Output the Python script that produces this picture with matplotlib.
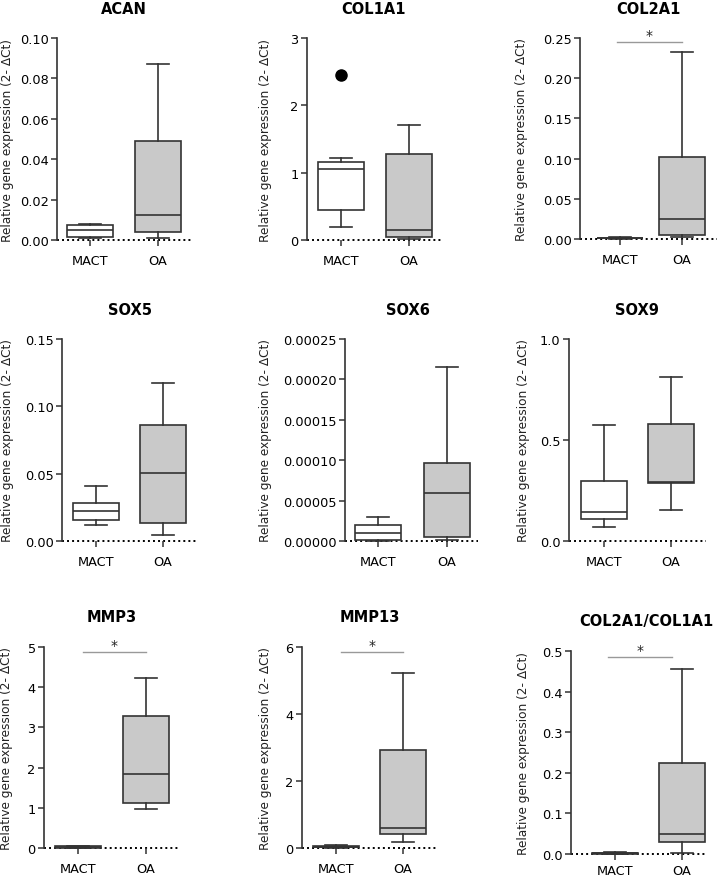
import numpy as np
import matplotlib.pyplot as plt

plt.rcParams['font.family'] = ['DejaVu Sans']

groups = ['MACT', 'OA']
genes = ['ACAN', 'COL1A1', 'COL2A1', 'SOX5', 'SOX6', 'SOX9',
         'MMP3', 'MMP13', 'COL2A1/COL1A1']

# box summaries: [whislo, q1, med, q3, whishi]
acan_mact = [0.0008, 0.0017, 0.0050, 0.0076, 0.0078]
acan_oa = [0.0008, 0.0038, 0.0124, 0.0492, 0.0873]
col1a1_mact = [0.19, 0.45, 1.06, 1.16, 1.22]
col1a1_oa = [0.02, 0.04, 0.15, 1.27, 1.71]
col1a1_mact_fliers = [2.45]
col2a1_mact = [0.0005, 0.0008, 0.0010, 0.0015, 0.0030]
col2a1_oa = [0.0020, 0.0046, 0.0245, 0.102, 0.232]
sox5_mact = [0.0117, 0.0154, 0.0223, 0.0280, 0.0409]
sox5_oa = [0.0045, 0.0131, 0.0505, 0.0865, 0.117]
sox6_mact = [0.0, 0.000001, 0.0000099, 0.0000194, 0.0000293]
sox6_oa = [0.000001, 0.0000045, 0.0000600, 0.0000960, 0.000215]
sox9_mact = [0.069, 0.111, 0.144, 0.298, 0.574]
sox9_oa = [0.152, 0.286, 0.293, 0.579, 0.812]
mmp3_mact = [0.005, 0.010, 0.030, 0.050, 0.060]
mmp3_oa = [0.96, 1.12, 1.83, 3.28, 4.24]
mmp13_mact = [0.010, 0.020, 0.040, 0.060, 0.080]
mmp13_oa = [0.18, 0.42, 0.585, 2.94, 5.22]
ratio_mact = [0.0005, 0.0010, 0.0015, 0.0030, 0.0040]
ratio_oa = [0.0025, 0.029, 0.049, 0.224, 0.456]

mact_sets = [acan_mact, col1a1_mact, col2a1_mact, sox5_mact, sox6_mact,
             sox9_mact, mmp3_mact, mmp13_mact, ratio_mact]
oa_sets = [acan_oa, col1a1_oa, col2a1_oa, sox5_oa, sox6_oa,
           sox9_oa, mmp3_oa, mmp13_oa, ratio_oa]
mact_fliers = [[], col1a1_mact_fliers, [], [], [], [], [], [], []]

yticks = [
    [0.00, 0.02, 0.04, 0.06, 0.08, 0.10],
    [0, 1, 2, 3],
    [0.00, 0.05, 0.10, 0.15, 0.20, 0.25],
    [0.00, 0.05, 0.10, 0.15],
    [0.0, 0.00005, 0.00010, 0.00015, 0.00020, 0.00025],
    [0.0, 0.5, 1.0],
    [0, 1, 2, 3, 4, 5],
    [0, 2, 4, 6],
    [0.0, 0.1, 0.2, 0.3, 0.4, 0.5],
]
ytick_fmt = ['%.2f', '%d', '%.2f', '%.2f', '%.5f', '%.1f', '%d', '%d', '%.1f']

# significance bars: (x start, x end, y level) or None
sig = [None, None, (0.95, 2.0, 0.245), None, None, None,
       (1.07, 2.0, 4.87), (1.07, 2.0, 5.85), (0.9, 1.85, 0.485)]

# panel layout in pixels: left, MACT centre, OA centre, right, top, zero line
layout = [
    (57, 90, 158, 192, 39, 241),
    (307, 341, 409, 442, 39, 241),
    (580, 620, 682, 717, 39, 240),
    (62, 96, 163, 197, 340, 542),
    (345, 378, 447, 478, 340, 542),
    (569, 604, 671, 706, 340, 542),
    (44, 78, 146, 180, 648, 849),
    (302, 336, 403, 437, 648, 849),
    (571, 615, 682, 706, 652, 855),
]
title_pos = [(124, 10), (373, 10), (648, 10), (130, 311), (408, 311),
             (637, 311), (112, 617), (370, 617), (646, 622)]
ylabel_x = [8, 266, 522, 8, 266, 523, 7, 266, 523]
xlabel_pad = [6, 6, 6, 6, 6, 6, 6, 6, 3]

W, H = 717, 878
fig = plt.figure(figsize=(W / 100, H / 100), dpi=100)
fig.patch.set_facecolor('white')

edge = '#333333'
for i in range(9):
    left, mact, oa, right, top, zero = layout[i]
    ax = fig.add_axes([left / W, 1 - zero / H, (right - left) / W, (zero - top) / H])
    s = oa - mact
    x0 = 1 - (mact - left) / s
    ax.set_xlim(x0, x0 + (right - left) / s)
    ax.set_ylim(0, yticks[i][-1])

    stats = []
    for data, fl in [(mact_sets[i], mact_fliers[i]), (oa_sets[i], [])]:
        stats.append(dict(whislo=data[0], q1=data[1], med=data[2],
                          q3=data[3], whishi=data[4], fliers=fl))
    bw = 46 / s
    res = ax.bxp(stats, positions=[1, 2], widths=bw, capwidths=bw * 0.47,
                 patch_artist=True, manage_ticks=False,
                 boxprops=dict(edgecolor=edge, linewidth=1.2),
                 medianprops=dict(color=edge, linewidth=1.2),
                 whiskerprops=dict(color=edge, linewidth=1.2),
                 capprops=dict(color=edge, linewidth=1.2),
                 flierprops=dict(marker='o', markerfacecolor='black',
                                 markeredgecolor='black', markersize=8))
    res['boxes'][0].set_facecolor('white')
    res['boxes'][1].set_facecolor('#c9c9c9')
    for k in res:
        for a in res[k]:
            a.set_clip_on(False)

    ax.spines['top'].set_visible(False)
    ax.spines['right'].set_visible(False)
    ax.spines['left'].set_color(edge)
    ax.spines['left'].set_linewidth(1.2)
    ax.spines['bottom'].set_visible(False)
    ax.axhline(0, color='black', linewidth=1.4, linestyle=(0, (1, 1.6)), zorder=0.5,
               clip_on=False)

    ax.set_yticks(yticks[i])
    ax.set_yticklabels([ytick_fmt[i] % v for v in yticks[i]], fontsize=9.3)
    ax.set_xticks([1, 2])
    ax.set_xticklabels(groups, fontsize=9.3)
    ax.tick_params(axis='y', length=4, width=1.1, color=edge, pad=2)
    ax.tick_params(axis='x', length=4, width=1.1, color=edge, pad=xlabel_pad[i])

    if sig[i] is not None:
        xa, xb, yv = sig[i]
        ax.plot([xa, xb], [yv, yv], color='#999999', linewidth=1.0, clip_on=False)
        ax.text((xa + xb) / 2, yv, '*', ha='center', va='bottom', fontsize=10,
                color='#222222')

    tx, ty = title_pos[i]
    fig.text(tx / W, 1 - ty / H, genes[i], ha='center', va='center',
             fontsize=10.5, fontweight='bold')
    fig.text(ylabel_x[i] / W, 1 - (top + zero) / 2 / H,
             'Relative gene expression (2- \u0394Ct)', rotation=90,
             ha='center', va='center', fontsize=8.7, color='#222222')

fig.savefig('out.png', dpi=100)
